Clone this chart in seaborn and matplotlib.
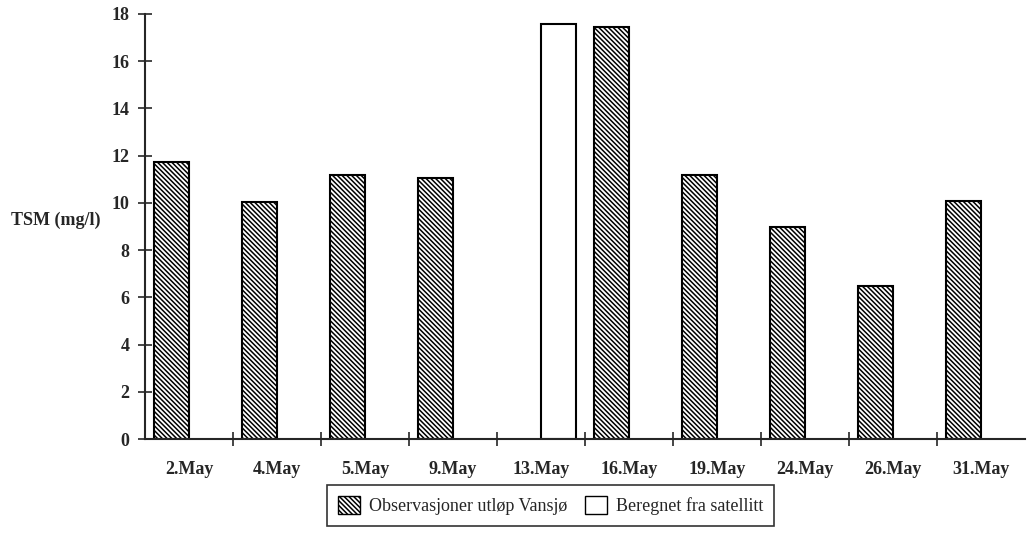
import pandas as pd
import seaborn as sns
import matplotlib.pyplot as plt
from matplotlib.patches import Patch

# data
dates = ["2.May", "4.May", "5.May", "9.May", "13.May", "16.May",
         "19.May", "24.May", "26.May", "31.May"]
obs_dates = ["2.May", "4.May", "5.May", "9.May", "16.May",
             "19.May", "24.May", "26.May", "31.May"]
obs_values = [11.75, 10.05, 11.2, 11.05, 17.45, 11.2, 9.0, 6.5, 10.1]
sat_dates = ["13.May"]
sat_values = [17.55]
obs_label = "Observasjoner utløp Vansjø"
sat_label = "Beregnet fra satellitt"

df = pd.concat([
    pd.DataFrame({"dato": obs_dates, "TSM": obs_values, "kilde": obs_label}),
    pd.DataFrame({"dato": sat_dates, "TSM": sat_values, "kilde": sat_label}),
])

sns.set_style("ticks")
plt.rcParams["font.family"] = ["Liberation Serif", "DejaVu Serif"]
plt.rcParams["font.weight"] = "bold"
plt.rcParams["hatch.linewidth"] = 1.1

HATCH = "\\\\\\\\\\\\\\"

fig = plt.figure(figsize=(10.28, 5.33), dpi=100)
ax = fig.add_axes([0.141, 0.176, 0.856, 0.798])

sns.barplot(data=df, x="dato", y="TSM", hue="kilde", order=dates,
            hue_order=[obs_label, sat_label], palette=["white", "white"],
            width=0.8, dodge=True, edgecolor="black", linewidth=1.5,
            legend=False, ax=ax)

for bar in ax.patches:
    # hatched bars sit in the left slot of each group
    if bar.get_x() + bar.get_width() / 2 < round(bar.get_x() + bar.get_width() / 2):
        bar.set_hatch(HATCH)

ax.set_xlim(-0.5, len(dates) - 0.5)
ax.set_ylim(0, 18)
ax.set_yticks(range(0, 19, 2))
ax.set_xticks(range(len(dates)))
ax.set_xticklabels(dates, fontsize=13, fontweight="bold")
ax.set_xticks([i + 0.5 for i in range(len(dates) - 1)], minor=True)
ax.tick_params(axis="x", which="major", length=0, pad=16)
ax.tick_params(axis="x", which="minor", direction="inout", length=10, width=1.2)
ax.tick_params(axis="y", direction="inout", length=10, width=1.2, labelsize=13, pad=6)
for lab in ax.get_yticklabels():
    lab.set_fontweight("bold")
ax.set_xlabel("")
ax.set_ylabel("TSM (mg/l)", rotation=0, fontsize=13, fontweight="bold",
              va="center", ha="right")
ax.yaxis.set_label_coords(-0.05, 0.515)
sns.despine(ax=ax)
ax.spines["left"].set_linewidth(1.5)
ax.spines["bottom"].set_linewidth(1.5)

handles = [Patch(facecolor="white", edgecolor="black", hatch=HATCH),
           Patch(facecolor="white", edgecolor="black")]
leg = ax.legend(handles, [obs_label, sat_label], ncol=2, loc="upper left",
                bbox_to_anchor=(0.207, -0.108), borderaxespad=0,
                frameon=True, fancybox=False, edgecolor="black",
                handlelength=1.2, handleheight=1.2, handletextpad=0.5,
                columnspacing=1.0, borderpad=0.6,
                prop={"weight": "normal", "size": 13})
leg.get_frame().set_linewidth(1.2)

fig.savefig("out.png", dpi=100)
